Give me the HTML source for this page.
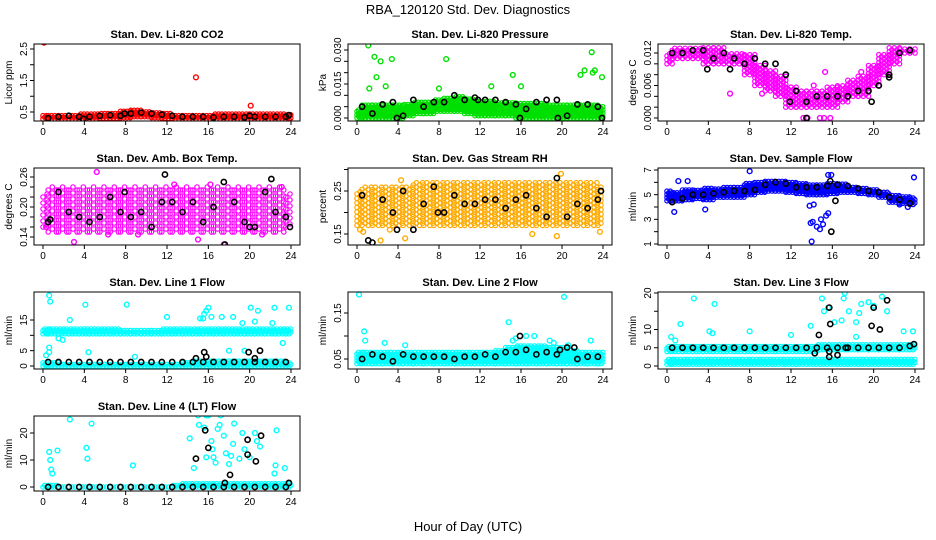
<!DOCTYPE html>
<html><head><meta charset="utf-8"><style>
body{margin:0;background:#fff;}
svg{display:block;font-family:"Liberation Sans",sans-serif;}
.t{font-weight:bold;font-size:11px;text-anchor:middle;}
.tk{font-size:10px;text-anchor:middle;}
</style></head><body>
<svg id="chart" width="936" height="540" viewBox="0 0 936 540" xmlns="http://www.w3.org/2000/svg">
<text x="468" y="14" font-size="13" text-anchor="middle">RBA_120120  Std. Dev. Diagnostics</text>
<text x="468" y="531" font-size="13" text-anchor="middle">Hour of Day (UTC)</text>
</svg>
<script>
// ---- data (hours 0..24 band bounds, outliers [hour,value], black hourly values at hour+0.5, black extras) ----
const xTicks=[0,4,8,12,16,20,24];
const co2Lo=[0.28,0.28,0.28,0.28,0.28,0.28,0.3,0.3,0.32,0.35,0.35,0.32,0.3,0.28,0.28,0.28,0.28,0.28,0.28,0.28,0.28,0.28,0.28,0.28,0.26];
const co2Hi=[0.42,0.4,0.42,0.42,0.45,0.45,0.48,0.5,0.55,0.58,0.55,0.52,0.45,0.42,0.42,0.42,0.42,0.48,0.45,0.45,0.48,0.45,0.45,0.45,0.42];
const co2Out=[[0.1,2.7],[14.8,1.6],[20.1,0.7]];
const co2Black=[0.3,0.35,0.38,0.35,0.35,0.38,0.4,0.38,0.45,0.48,0.45,0.42,0.38,0.35,0.35,0.35,0.33,0.35,0.35,0.33,0.35,0.35,0.35,0.35];
const co2BlackX=[[7.9,0.45],[3.9,0.28],[23.8,0.4],[20,0.38]];
const presLo=[0,0,0,0,0,0.001,0.002,0.002,0.003,0.003,0.003,0.002,0.001,0.001,0.001,0.001,0,0,0,0,0,0,0,0,0];
const presHi=[0.004,0.006,0.006,0.006,0.006,0.006,0.007,0.007,0.008,0.009,0.010,0.009,0.008,0.008,0.007,0.007,0.007,0.007,0.007,0.006,0.006,0.006,0.006,0.006,0.005];
const presOut=[[1.1,0.032],[1.7,0.027],[2.3,0.025],[1.9,0.018],[1.2,0.013],[2.8,0.014],[3.4,0.026],[8.7,0.026],[8.0,0.013],[15.2,0.019],[16.0,0.014],[13.1,0.014],[22.9,0.029],[22.2,0.021],[21.8,0.019],[23.0,0.020],[23.2,0.021],[23.9,0.018]];
const presBlack=[0.005,0.002,0.006,0.007,0.001,0.008,0.005,0.007,0.007,0.010,0.008,0.009,0.008,0.008,0.007,0.006,0.004,0.007,0.008,0.008,0.001,0.006,0.006,0.005];
const presBlackX=[[3.9,0],[15.9,0],[19.6,0],[23.9,0],[11.8,0.008]];
const tempLo=[0.010,0.011,0.011,0.011,0.010,0.010,0.010,0.010,0.008,0.006,0.005,0.004,0.002,0.002,0.002,0.002,0.002,0.003,0.004,0.004,0.006,0.008,0.010,0.012,0.012];
const tempHi=[0.012,0.013,0.013,0.013,0.013,0.013,0.012,0.012,0.012,0.010,0.009,0.008,0.006,0.005,0.005,0.005,0.006,0.006,0.007,0.008,0.010,0.012,0.013,0.013,0.013];
const tempOut=[[13.2,0],[13.6,0],[14.8,0],[15.2,0],[15.8,0],[6.1,0.0045],[15.3,0.0085],[9.2,0.0045],[14.2,0.006],[18.8,0.0085]];
const tempBlack=[0.012,0.012,0.0125,0.0125,0.011,0.012,0.011,0.010,0.011,0.010,0.010,0.008,0.005,0.003,0.004,0.004,0.004,0.004,0.005,0.005,0.006,0.008,0.012,0.0125];
const tempBlackX=[[13.5,0],[3.9,0.009],[6.1,0.009],[11.9,0.003],[19.8,0.003],[21.5,0.0075]];
const ambLo=[0.16,0.15,0.15,0.15,0.15,0.15,0.15,0.15,0.15,0.15,0.15,0.15,0.15,0.15,0.15,0.15,0.15,0.15,0.15,0.15,0.15,0.15,0.15,0.15,0.16];
const ambHi=[0.23,0.24,0.24,0.24,0.24,0.24,0.24,0.24,0.24,0.24,0.24,0.24,0.24,0.24,0.24,0.24,0.24,0.24,0.24,0.24,0.24,0.24,0.24,0.24,0.23];
const ambOut=[[5.2,0.27],[3,0.13],[15,0.135],[17.5,0.125],[12.7,0.245],[21.2,0.145],[0.3,0.16],[6.3,0.145],[9.2,0.145],[16.2,0.245],[23.1,0.24]];
const ambBlack=[0.17,0.23,0.19,0.18,0.17,0.18,0.22,0.19,0.18,0.19,0.16,0.21,0.21,0.19,0.21,0.17,0.2,0.25,0.21,0.17,0.16,0.23,0.19,0.18];
const ambBlackX=[[11.8,0.265],[22.1,0.256],[7.9,0.23],[20,0.16],[23.9,0.16],[0.7,0.175],[17.6,0.125]];
const rhLo=[0.17,0.17,0.17,0.17,0.17,0.17,0.17,0.17,0.17,0.17,0.17,0.17,0.17,0.17,0.17,0.17,0.17,0.17,0.17,0.17,0.17,0.17,0.17,0.17,0.17];
const rhHi=[0.25,0.26,0.26,0.26,0.26,0.26,0.27,0.27,0.27,0.27,0.27,0.27,0.27,0.27,0.27,0.27,0.27,0.27,0.27,0.27,0.27,0.27,0.27,0.27,0.26];
const rhOut=[[0.3,0.16],[0.6,0.155],[2.3,0.135],[4.3,0.275],[4.7,0.14],[19.9,0.29],[17.1,0.15],[19.5,0.145],[23.7,0.155],[3.2,0.16]];
const rhBlack=[0.24,0.13,0.23,0.2,0.25,0.16,0.22,0.26,0.2,0.24,0.22,0.22,0.23,0.23,0.21,0.23,0.24,0.21,0.19,0.28,0.19,0.22,0.21,0.23];
const rhBlackX=[[1.1,0.135],[3.9,0.16],[7.9,0.2],[23.8,0.25]];
const flowLo=[4.5,4.5,4.6,4.7,4.6,4.8,4.8,4.8,5.0,5.2,5.3,5.3,5.2,5.1,5.0,5.0,5.1,5.2,5.2,5.1,5.0,4.8,4.4,4.3,4.2];
const flowHi=[5.3,5.2,5.4,5.4,5.5,5.5,5.6,5.6,5.9,6.0,6.1,6.1,6.0,5.9,5.8,5.8,5.9,5.9,5.7,5.6,5.5,5.3,5.0,4.9,4.8];
const flowOut=[[8,6.9],[15.6,6.6],[15.9,6.6],[23.9,6.4],[0.7,3.6],[13.8,4.1],[14.2,4.2],[13.9,2.7],[14.1,2.8],[14.5,2.4],[14.8,2.2],[15.1,2.6],[15.4,3.3],[15.6,3.5],[14.0,1.2],[14.9,3],[1.1,6.1],[2,6.1],[3.7,3.8],[22.5,4.2],[23.3,4.0]];
const flowBlack=[4.4,4.7,5,5,5.1,5.2,5.3,5.3,5.4,5.8,6,5.9,5.6,5.6,5.6,5.7,5.8,5.7,5.5,5.3,5.2,4.8,4.6,4.3];
const flowBlackX=[[15.9,2],[16.3,4.5],[15.8,6.1]];
const l1Lo=[10.5,10.5,10.5,10.5,10.5,10.5,10.5,10.5,10.5,10.5,10.5,10.5,10.5,10.5,10.5,10.5,10.5,10.5,10.5,10.5,10.5,10.5,10.5,10.5,10.5];
const l1Hi=[12.5,12.5,12.5,12.5,12.5,12.5,12.5,12.5,12,12,12,12,12.5,12.5,12.5,12.5,12.5,12.5,12.5,12.5,12.5,12.5,12.5,12.5,12.5];
const l1LoB=[0,0,0,0,0,0,0,0,0,0,0,0,0,0,0,0,0,0,0,0,0,0,0,0,0];
const l1HiB=[1.5,1.5,1,1,1,1,1,1,1,1,1,1,1,1,1.5,2,2,2,2,2,2,2,2,2,1.5];
const l1Out=[[0.6,23],[0.7,21],[4.1,20],[8.1,20],[12,16],[2.6,15],[0.3,3.5],[0.6,6],[0.6,4.5],[15.6,17],[15.8,18],[16,19],[16.3,16],[17.3,16],[18.4,16],[19.3,14],[20.1,19],[20.5,14.5],[20.8,18],[22.4,19],[23.8,19],[22.2,14],[23.2,7.5],[18,5],[19.5,5],[4.4,4.5],[1.5,9],[1.9,8.5],[8.9,3],[15.2,15.5],[15.5,15.5]];
const l1Black=[1.3,1.3,1.3,1.3,1.3,1.3,1.3,1.3,1.3,1.3,1.3,1.3,1.3,1.3,1.3,1.3,1.3,1.3,1.3,1.3,1.3,1.3,1.3,1.3];
const l1BlackX=[[15.6,4.5],[15.8,3],[19.9,4.5],[20.5,2.5],[21,5],[14.8,2.5]];
const l2Lo=[0.04,0.04,0.04,0.04,0.04,0.04,0.04,0.04,0.04,0.04,0.04,0.04,0.04,0.04,0.04,0.04,0.04,0.04,0.04,0.04,0.04,0.04,0.04,0.04,0.04];
const l2Hi=[0.065,0.065,0.065,0.065,0.065,0.065,0.065,0.065,0.065,0.065,0.065,0.065,0.065,0.065,0.07,0.075,0.08,0.08,0.08,0.075,0.075,0.07,0.065,0.065,0.065];
const l2Out=[[0.2,0.19],[20.2,0.185],[14.8,0.13],[0.7,0.11],[0.8,0.09],[2.7,0.085],[4.7,0.08],[15.2,0.09],[16.5,0.1],[17.3,0.1],[18.8,0.09],[19.2,0.085],[22.8,0.09],[20.6,0.08],[15.5,0.095],[16.2,0.07],[18.5,0.075]];
const l2Black=[0.05,0.06,0.055,0.045,0.06,0.055,0.055,0.055,0.055,0.05,0.055,0.055,0.06,0.055,0.065,0.065,0.07,0.06,0.065,0.06,0.075,0.05,0.055,0.055];
const l2BlackX=[[15.9,0.1],[21.2,0.075],[19.8,0.07]];
const l3Lo=[4,4,4,4,4,4,4,4,4,4,4,4,4,4,4,4.5,4.5,4.5,4.5,4.5,4.5,4.5,4.5,4.5,4.5];
const l3Hi=[5.5,5.5,5.5,5.5,5.5,5.5,5.5,5.5,5.5,5.5,5.5,5.5,5.5,5.5,5.5,6,6,6,6,6,6,6,6,6,6];
const l3LoB=[0.5,0.5,0.5,0.5,0.5,0.5,0.5,0.5,0.5,0.5,0.5,0.5,0.5,0.5,0.5,0.5,0.5,0.5,0.5,0.5,0.5,0.5,0.5,0.5,0.5];
const l3HiB=[2,2,2,2,2,2,2,2,2,2,2,2,2,2,2,2,2,2,2,2,2,2,2,2,2];
const l3Out=[[2.6,18.5],[4.6,17],[17.2,20],[20.8,19],[17.1,18.5],[15.6,16],[15.2,15],[15,18.5],[18.8,17],[19.5,17.5],[20,16.5],[21.3,15],[4.1,9.5],[4.4,9],[8,9.5],[1.3,11.5],[12,8.5],[13.9,11],[16.2,12],[16.9,12.5],[17.6,15],[18.3,12],[18.6,14.5],[22.9,9.5],[23.8,9.5],[0.4,8],[0.8,7],[18.3,8]];
const l3Black=[5,5,5,5,5,5,5,5,5,5,5,5,5,5,5,5,5,5,5,5,5,5,5,5.5];
const l3BlackX=[[15.7,16],[15.8,11.5],[14.7,8.5],[20,16],[20.6,10],[21.3,18],[19.8,11],[15.7,4],[15.7,2.5],[14.3,3.5],[16.5,3],[17.3,5],[23.9,6]];
const l4Lo=[0,0,0,0,0,0,0,0,0,0,0,0,0,0,0,0,0,0,0,0,0,0,0,0,0];
const l4Hi=[1,1,0.5,0.5,0.5,0.5,0.5,0.5,0.5,0.5,0.5,0.5,0.5,1,1.5,1.5,1.5,1.5,1.5,1.5,1.5,1.5,1.5,1.5,1.5];
const l4Out=[[2.6,25],[4.7,23.5],[0.6,13],[1.4,13.5],[0.7,10],[0.8,6.5],[0.9,5],[4.2,14.5],[4.3,10.5],[8.7,8],[14.2,18],[14.6,7],[15,26.5],[15.1,23],[15.8,26.5],[16,26.5],[17.2,26.5],[15.6,22],[16.3,17],[16.9,21.5],[17.1,23],[17.5,19],[18.5,23.5],[18.4,16],[19.3,20],[19.5,14],[20.5,20],[20.7,17],[21,15],[22.6,21],[22.5,8],[23.4,7],[22.4,5],[16.5,11],[16.7,9],[17.7,12.5],[18.2,11.5],[18,8.5],[19,10.5],[20,11],[15.8,11],[16.4,14]];
const l4Black=[0,0,0,0,0,0,0,0,0,0,0,0,0,0,0,0,0,0,0,0,0,0,0,0];
const l4BlackX=[[14.8,10.5],[15.7,21],[16,14.5],[18.1,4.5],[19.8,17.5],[19.8,12],[20.6,9.5],[21.1,19],[17.6,1.5],[23.8,1.5]];

const panels=[
 {n:'co2',title:'Stan. Dev. Li-820 CO2',ylab:'Licor ppm',L:34,R:300,T:44,B:121,ya:[0.5,112],yb:[2.5,49],tk:[0.5,1,1.5,2,2.5],lv:[0.5,1.5,2.5],lb:['0.5','1.5','2.5'],col:'#ff0000',sp:[0.16,3.2],bands:[[co2Lo,co2Hi]],out:co2Out,blk:co2Black,blkx:co2BlackX},
 {n:'pressure',title:'Stan. Dev. Li-820 Pressure',ylab:'kPa',L:348,R:612,T:44,B:121,ya:[0,118],yb:[0.03,50],tk:[0,0.005,0.01,0.015,0.02,0.025,0.03],lv:[0,0.015,0.03],lb:['0.000','0.015','0.030'],col:'#00e000',sp:[0.16,3.2],bands:[[presLo,presHi]],out:presOut,blk:presBlack,blkx:presBlackX},
 {n:'li820-temp',title:'Stan. Dev. Li-820 Temp.',ylab:'degrees C',L:658,R:924,T:44,B:121,ya:[0,118],yb:[0.012,53],tk:[0,0.002,0.004,0.006,0.008,0.01,0.012],lv:[0,0.006,0.012],lb:['0.000','0.006','0.012'],col:'#ff00ff',sp:[0.25,4],bands:[[tempLo,tempHi]],out:tempOut,blk:tempBlack,blkx:tempBlackX},
 {n:'amb-box-temp',title:'Stan. Dev. Amb. Box Temp.',ylab:'degrees C',L:34,R:300,T:168,B:245,ya:[0.14,237],yb:[0.26,177],tk:[0.14,0.16,0.18,0.2,0.22,0.24,0.26],lv:[0.14,0.2,0.26],lb:['0.14','0.20','0.26'],col:'#ff00ff',sp:[0.4,6],bands:[[ambLo,ambHi]],out:ambOut,blk:ambBlack,blkx:ambBlackX},
 {n:'gas-stream-rh',title:'Stan. Dev. Gas Stream RH',ylab:'percent',L:348,R:612,T:168,B:245,ya:[0.15,234],yb:[0.25,191],tk:[0.15,0.2,0.25,0.3],lv:[0.15,0.25],lb:['0.15','0.25'],col:'#ffaa00',sp:[0.3,4.5],bands:[[rhLo,rhHi]],out:rhOut,blk:rhBlack,blkx:rhBlackX},
 {n:'sample-flow',title:'Stan. Dev. Sample Flow',ylab:'ml/min',L:658,R:924,T:168,B:245,ya:[1,244],yb:[7,170],tk:[1,2,3,4,5,6,7],lv:[1,3,5,7],lb:['1','3','5','7'],col:'#0000ff',sp:[0.16,3.2],bands:[[flowLo,flowHi]],out:flowOut,blk:flowBlack,blkx:flowBlackX},
 {n:'line1-flow',title:'Stan. Dev. Line 1 Flow',ylab:'ml/min',L:34,R:300,T:292,B:369,ya:[0,366],yb:[15,320],tk:[0,5,10,15],lv:[0,5,15],lb:['0','5','15'],col:'#00ffff',sp:[0.16,3.2],bands:[[l1Lo,l1Hi],[l1LoB,l1HiB]],out:l1Out,blk:l1Black,blkx:l1BlackX},
 {n:'line2-flow',title:'Stan. Dev. Line 2 Flow',ylab:'ml/min',L:348,R:612,T:292,B:369,ya:[0.05,359],yb:[0.15,313],tk:[0.05,0.1,0.15],lv:[0.05,0.15],lb:['0.05','0.15'],col:'#00ffff',sp:[0.16,3.2],bands:[[l2Lo,l2Hi]],out:l2Out,blk:l2Black,blkx:l2BlackX},
 {n:'line3-flow',title:'Stan. Dev. Line 3 Flow',ylab:'ml/min',L:658,R:924,T:292,B:369,ya:[0,366],yb:[20,293],tk:[0,5,10,15,20],lv:[0,5,10,20],lb:['0','5','10','20'],col:'#00ffff',sp:[0.16,3.2],bands:[[l3Lo,l3Hi],[l3LoB,l3HiB]],out:l3Out,blk:l3Black,blkx:l3BlackX},
 {n:'line4-flow',title:'Stan. Dev. Line 4 (LT) Flow',ylab:'ml/min',L:34,R:300,T:416,B:491,ya:[0,487],yb:[20,433],tk:[0,10,20],lv:[0,10,20],lb:['0','10','20'],col:'#00ffff',sp:[0.16,3.2],bands:[[l4Lo,l4Hi]],out:l4Out,blk:l4Black,blkx:l4BlackX}
];
const NS='http://www.w3.org/2000/svg';
const svg=document.getElementById('chart');
function mk(tag,attrs,parent){const e=document.createElementNS(NS,tag);for(const k in attrs)e.setAttribute(k,attrs[k]);(parent||svg).appendChild(e);return e;}
panels.forEach(p=>{
 const g=mk('g',{});
 
 
 const x=h=>p.L+9+h*(p.R-p.L-18)/24;
 const y=v=>p.ya[1]+(v-p.ya[0])*(p.yb[1]-p.ya[1])/(p.yb[0]-p.ya[0]);
 const clip='c'+p.n;
 const cp=mk('clipPath',{id:clip},g);mk('rect',{x:p.L,y:p.T,width:p.R-p.L,height:p.B-p.T},cp);
 const marks=mk('g',{'clip-path':'url(#'+clip+')'},g);
 
 
 p.bands.forEach(([lo,hi])=>{
  for(let i=0;i<lo.length;i++){
   const x0=Math.max(0,i-0.5),x1=Math.min(24,i+0.5);
   let k=0;
   for(let hx=x0;hx<=x1;hx+=p.sp[0]){
    const ya=y(lo[i]),yb=y(hi[i]);
    const off=(k++%2)*p.sp[1]/2;
    for(let py=ya-off;py>=yb-0.1;py-=p.sp[1]){
     const c=mk('circle',{cx:x(hx).toFixed(1),cy:py.toFixed(1),r:2.2,fill:'none',stroke:p.col,'stroke-width':1.2},marks);
     
     
    }
   }
  }
 });
 p.out.forEach(([h,v])=>{
  const c=mk('circle',{cx:x(h),cy:y(v),r:2.4,fill:'none',stroke:p.col,'stroke-width':1.4},marks);
  
  
 });
 p.blk.forEach((v,i)=>{
  const c=mk('circle',{cx:x(i+0.5),cy:y(v),r:2.6,fill:'none',stroke:'#000','stroke-width':1.6},marks);
  
  
 });
 p.blkx.forEach(([h,v])=>{
  const c=mk('circle',{cx:x(h),cy:y(v),r:2.6,fill:'none',stroke:'#000','stroke-width':1.6},marks);
  
  
 });
 const box=mk('rect',{x:p.L,y:p.T,width:p.R-p.L,height:p.B-p.T,fill:'none',stroke:'#000','stroke-width':1},g);
 
 
 const t=mk('text',{x:(p.L+p.R)/2,y:p.T-6,class:'t'},g);t.textContent=p.title;
 
 
 xTicks.forEach(h=>{
  mk('line',{x1:x(h),x2:x(h),y1:p.B,y2:p.B+4,stroke:'#000'},g);
  const l=mk('text',{x:x(h),y:p.B+14,class:'tk'},g);l.textContent=h;
  
  
 });
 p.tk.forEach(v=>{
  mk('line',{x1:p.L-4,x2:p.L,y1:y(v),y2:y(v),stroke:'#000'},g);
 });
 p.lv.forEach((v,i)=>{
  const l=mk('text',{x:0,y:0,'font-size':'10','text-anchor':'middle',transform:`translate(${p.L-7} ${y(v)}) rotate(-90)`},g);
  l.textContent=p.lb[i];
  
  
 });
 const yt=mk('text',{x:0,y:0,'font-size':'10','text-anchor':'middle',transform:`translate(${p.L-22} ${(p.T+p.B)/2}) rotate(-90)`},g);yt.textContent=p.ylab;
 
 
});
</script>
</body></html>
